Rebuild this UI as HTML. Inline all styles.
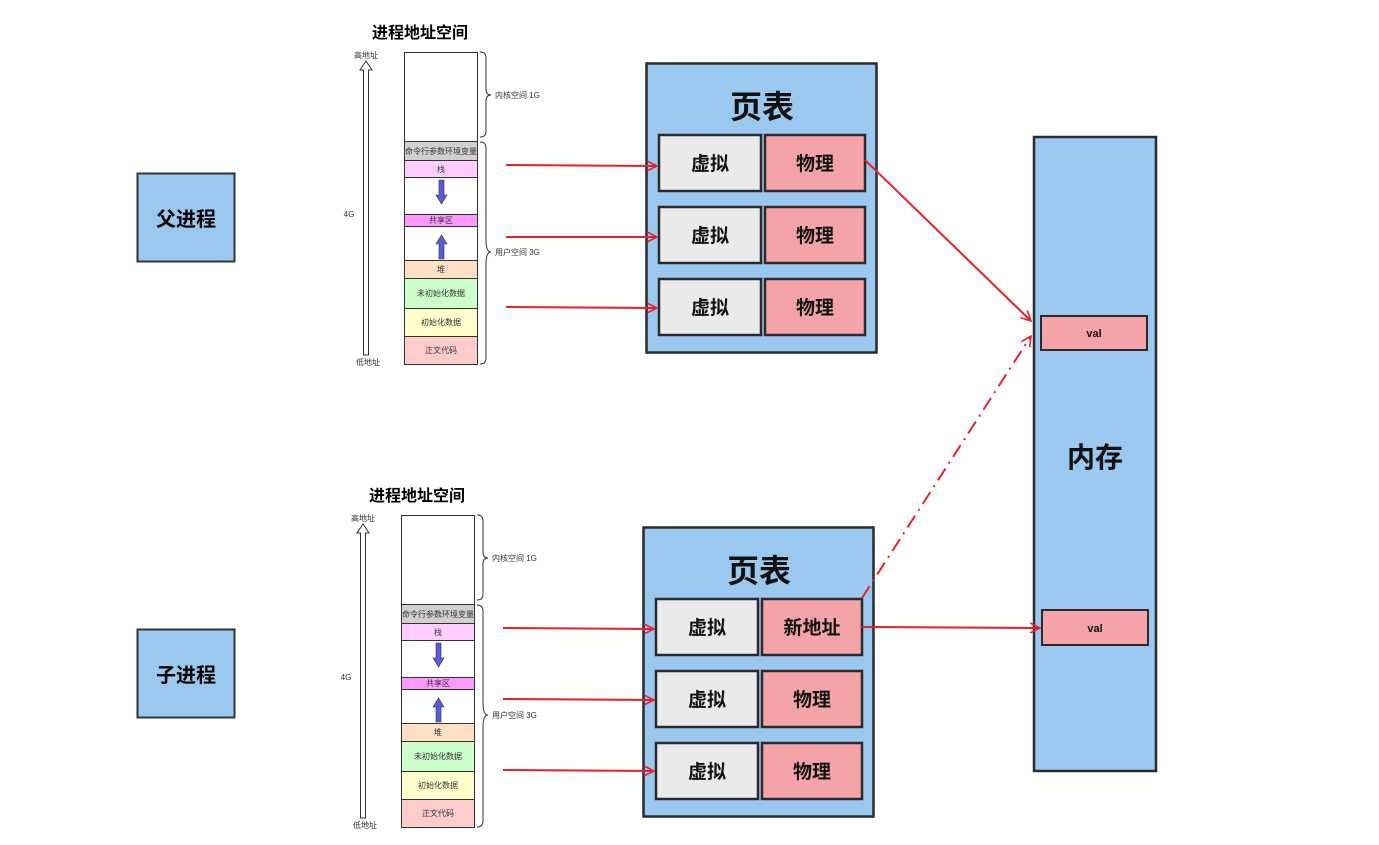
<!DOCTYPE html>
<html><head><meta charset="utf-8"><style>
html,body{margin:0;padding:0;background:#fff;}
svg{display:block;}
text{font-family:"Liberation Sans","Noto Sans CJK SC",sans-serif;}
</style></head><body>
<svg width="1379" height="845" viewBox="0 0 1379 845" xmlns="http://www.w3.org/2000/svg">
<defs>
<marker id="ar" viewBox="0 0 12 12" refX="11" refY="6" markerWidth="12" markerHeight="12" markerUnits="userSpaceOnUse" orient="auto">
<path d="M1,1 L11,6 L1,11" fill="none" stroke="#e8202a" stroke-width="1.6"/>
</marker>
<g id="as">
<text x="420" y="38" font-size="16" font-weight="bold" text-anchor="middle" fill="#000">进程地址空间</text>
<text x="366" y="58" font-size="8" text-anchor="middle" fill="#333">高地址</text>
<text x="368" y="365" font-size="8" text-anchor="middle" fill="#333">低地址</text>
<text x="349" y="217" font-size="8" text-anchor="middle" fill="#333">4G</text>
<path d="M363.5,355 V70 H360 L366,61 L372,70 H368.5 V355 Z" fill="#fff" stroke="#333" stroke-width="1"/>
<rect x="404.5" y="52.5" width="73" height="89" fill="#fff" stroke="#333"/>
<rect x="404.5" y="141.5" width="73" height="19" fill="#d0d0d0" stroke="#333"/>
<rect x="404.5" y="160.5" width="73" height="17" fill="#ffccff" stroke="#333"/>
<rect x="404.5" y="177.5" width="73" height="37" fill="#fff" stroke="#333"/>
<rect x="404.5" y="214.5" width="73" height="12" fill="#ff99ff" stroke="#333"/>
<rect x="404.5" y="226.5" width="73" height="34" fill="#fff" stroke="#333"/>
<rect x="404.5" y="260.5" width="73" height="18" fill="#ffe0c4" stroke="#333"/>
<rect x="404.5" y="278.5" width="73" height="30" fill="#ccffcc" stroke="#333"/>
<rect x="404.5" y="308.5" width="73" height="28" fill="#ffffcc" stroke="#333"/>
<rect x="404.5" y="336.5" width="73" height="28" fill="#ffcccc" stroke="#333"/>
<g font-size="8" fill="#333" text-anchor="middle">
<text x="441" y="154">命令行参数环境变量</text>
<text x="441" y="172">栈</text>
<text x="441" y="223">共享区</text>
<text x="441" y="272">堆</text>
<text x="441" y="296">未初始化数据</text>
<text x="441" y="325">初始化数据</text>
<text x="441" y="353">正文代码</text>
</g>
<path d="M439,180 h5 v15 h3 l-5.5,9 l-5.5,-9 h3 z" fill="#5b5bdc" stroke="#333" stroke-width="0.6"/>
<path d="M439,259 h5 v-15 h3 l-5.5,-9 l-5.5,9 h3 z" fill="#5b5bdc" stroke="#333" stroke-width="0.6"/>
<path d="M480,52 q6,0 6,6 v31 q0,6 5,6 q-5,0 -5,6 v30 q0,6 -6,6" fill="none" stroke="#333"/>
<path d="M480,142 q6,0 6,6 v92 q0,12 5,12 q-5,0 -5,12 v94 q0,6 -6,6" fill="none" stroke="#333"/>
<text x="495" y="98" font-size="8" fill="#333">内核空间 1G</text>
<text x="495" y="255" font-size="8" fill="#333">用户空间 3G</text>
</g>
</defs>

<!-- processes -->
<rect x="137.5" y="173.5" width="97" height="88" fill="#9bc8ee" stroke="#333" stroke-width="2"/>
<text x="186" y="226" font-size="20" font-weight="bold" text-anchor="middle">父进程</text>
<rect x="137.5" y="629.5" width="97" height="88" fill="#9bc8ee" stroke="#333" stroke-width="2"/>
<text x="186" y="682" font-size="20" font-weight="bold" text-anchor="middle">子进程</text>

<use href="#as"/>
<use href="#as" transform="translate(-3,463)"/>

<!-- page tables -->
<g stroke="#2a2a2a" stroke-width="2.5">
<rect x="646.5" y="63.5" width="230" height="289" fill="#9bc8ee"/>
<rect x="659" y="135" width="102" height="56" fill="#eaeaea"/>
<rect x="765" y="135" width="100" height="56" fill="#f4a3a8"/>
<rect x="659" y="207" width="102" height="56" fill="#eaeaea"/>
<rect x="765" y="207" width="100" height="56" fill="#f4a3a8"/>
<rect x="659" y="279" width="102" height="56" fill="#eaeaea"/>
<rect x="765" y="279" width="100" height="56" fill="#f4a3a8"/>

<rect x="643.5" y="527.5" width="230" height="289" fill="#9bc8ee"/>
<rect x="656" y="599" width="102" height="56" fill="#eaeaea"/>
<rect x="762" y="599" width="100" height="56" fill="#f4a3a8"/>
<rect x="656" y="671" width="102" height="56" fill="#eaeaea"/>
<rect x="762" y="671" width="100" height="56" fill="#f4a3a8"/>
<rect x="656" y="743" width="102" height="56" fill="#eaeaea"/>
<rect x="762" y="743" width="100" height="56" fill="#f4a3a8"/>

<rect x="1034" y="137" width="122" height="634" fill="#9bc8ee"/>
<rect x="1041" y="316" width="106" height="34" fill="#f4a3a8" stroke-width="2"/>
<rect x="1042" y="610" width="106" height="35" fill="#f4a3a8" stroke-width="2"/>
</g>
<g font-weight="bold" text-anchor="middle" fill="#111">
<text x="762" y="118" font-size="32">页表</text>
<text x="759" y="582" font-size="32">页表</text>
<g font-size="19">
<text x="710" y="170">虚拟</text><text x="815" y="170">物理</text>
<text x="710" y="242">虚拟</text><text x="815" y="242">物理</text>
<text x="710" y="314">虚拟</text><text x="815" y="314">物理</text>
<text x="707" y="634">虚拟</text><text x="812" y="634">新地址</text>
<text x="707" y="706">虚拟</text><text x="812" y="706">物理</text>
<text x="707" y="778">虚拟</text><text x="812" y="778">物理</text>
</g>
<text x="1095" y="467" font-size="28">内存</text>
<text x="1094" y="337" font-size="11">val</text>
<text x="1095" y="632" font-size="11">val</text>
</g>

<!-- arrows -->
<g stroke="#e8202a" stroke-width="2" fill="none" marker-end="url(#ar)">
<line x1="506" y1="165" x2="657" y2="166"/>
<line x1="506" y1="237" x2="657" y2="237"/>
<line x1="506" y1="307" x2="657" y2="308"/>
<line x1="503" y1="628" x2="654" y2="629"/>
<line x1="503" y1="699" x2="654" y2="700"/>
<line x1="503" y1="770" x2="654" y2="771"/>
<line x1="865" y1="160" x2="1031" y2="321"/>
<line x1="862" y1="627" x2="1040" y2="628"/>
<line x1="862" y1="598" x2="1031" y2="336" stroke-dasharray="14,6,2,6"/>
</g>
</svg>
</body></html>
